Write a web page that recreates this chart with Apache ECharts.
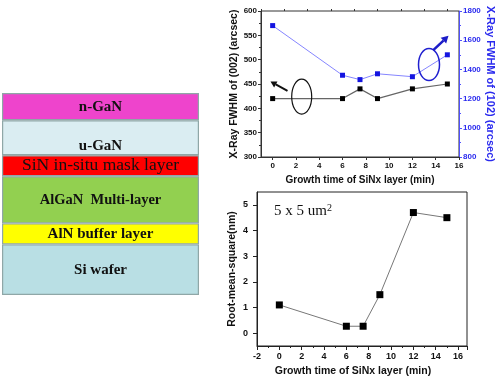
<!DOCTYPE html>
<html>
<head>
<meta charset="utf-8">
<script src="https://cdn.jsdelivr.net/npm/echarts@6/dist/echarts.min.js"></script>
<style>
html,body{margin:0;padding:0;background:#fff;}
#c{width:500px;height:381px;}
</style>
</head>
<body>
<div id="c"></div>
<script>
// ---- data ----
const xTop = [0, 6, 7.5, 9, 12, 15];
const fwhm002 = [420, 420, 440, 420, 440, 450];
const fwhm102 = [1700, 1360, 1330, 1370, 1350, 1500];
const xBottom = [0, 6, 7.5, 9, 12, 15];
const rms = [1.1, 0.27, 0.27, 1.5, 4.7, 4.5];
const xTicksTop = [0, 2, 4, 6, 8, 10, 12, 14, 16];
const xMinorTop = [-1, 1, 3, 5, 7, 9, 11, 13, 15];
const yTicksRms = [0, 1, 2, 3, 4, 5];
const layers = ['n-GaN', 'u-GaN', 'SiN in-situ mask layer', 'AlGaN  Multi-layer', 'AlN buffer layer', 'Si wafer'];
const layerThickness = [27.3, 35, 21, 47.3, 21, 50.7];

// ---- styles ----
const layerColors = ['#ee44cc', '#daedf2', '#ff0000', '#92d050', '#ffff00', '#b9dfe4'];
const SANS = 'Liberation Sans, Arial, sans-serif';
const SERIF = 'Liberation Serif, Times New Roman, serif';
const BLUE = '#2a2aee';
const plain = v => String(v);

const pairs = (xs, ys) => xs.map((x, i) => [x, ys[i]]);

function arrow(x1, y1, x2, y2, color, w, hl, hw) {
  const dx = x2 - x1, dy = y2 - y1, L = Math.hypot(dx, dy);
  const ux = dx / L, uy = dy / L, nx = -uy, ny = ux;
  const bx = x2 - ux * hl, by = y2 - uy * hl;
  return [
    { type: 'polyline', shape: { points: [[x1, y1], [bx, by]] }, style: { stroke: color, lineWidth: w, fill: null }, z: 100 },
    { type: 'polygon', shape: { points: [[x2, y2], [bx + nx * hw, by + ny * hw], [bx - nx * hw, by - ny * hw]] }, style: { fill: color }, z: 100 }
  ];
}

const chart = echarts.init(document.getElementById('c'));

const layerSeries = layers.map((name, i) => ({
  type: 'bar', name: name, stack: 'L', xAxisIndex: 3, yAxisIndex: 3,
  barWidth: '100%', data: [layerThickness[i]],
  itemStyle: { color: layerColors[i], borderColor: '#8fa7a7', borderWidth: 1.2 },
  label: {
    show: true,
    position: i === 1 ? 'insideBottom' : 'inside',
    distance: 1,
    formatter: name,
    color: '#111',
    fontFamily: SERIF,
    fontWeight: i === 2 ? 'normal' : 'bold',
    fontSize: i === 2 ? 17.5 : (i === 3 ? 14.5 : 15),
    lineHeight: i === 2 ? 18 : 16,
    padding: i === 2 ? [2, 0, 0, 0] : 0
  },
  silent: true, animation: false
}));

const option = {
  animation: false,
  grid: [
    { left: 261, top: 11, width: 198, height: 146, show: true, borderColor: '#333', borderWidth: 1 },
    { left: 257, top: 192, width: 210, height: 154, show: true, borderColor: '#222', borderWidth: 1 },
    { left: 2, top: 93, width: 197, height: 202 }
  ],
  xAxis: [
    {
      type: 'value', gridIndex: 0, min: -1, max: 16,
      name: 'Growth time of SiNx layer (min)', nameLocation: 'middle', nameGap: 18,
      nameTextStyle: { fontFamily: SANS, fontWeight: 'bold', fontSize: 10, color: '#111' },
      axisLine: { onZero: false, lineStyle: { color: '#333' } },
      axisTick: { customValues: xTicksTop, length: 3, lineStyle: { color: '#333' } },
      axisLabel: { customValues: xTicksTop, formatter: plain, fontFamily: SANS, fontWeight: 'bold', fontSize: 8, color: '#111', margin: 5 },
      splitLine: { show: false }
    },
    {
      type: 'value', gridIndex: 0, min: -1, max: 16,
      axisLine: { show: false, onZero: false },
      axisTick: { customValues: xMinorTop, length: 2, lineStyle: { color: '#333' } },
      axisLabel: { show: false }, splitLine: { show: false }
    },
    {
      type: 'value', gridIndex: 1, min: -2, max: 16.8, interval: 2,
      name: 'Growth time of SiNx layer (min)', nameLocation: 'middle', nameGap: 20,
      nameTextStyle: { fontFamily: SANS, fontWeight: 'bold', fontSize: 10.5, color: '#111', padding: [0, 18, 0, 0] },
      axisLine: { onZero: false, lineStyle: { color: '#222' } },
      axisTick: { length: 4, lineStyle: { color: '#222' } },
      minorTick: { show: true, splitNumber: 2, length: 2, lineStyle: { color: '#222' } },
      axisLabel: { showMaxLabel: false, formatter: plain, fontFamily: SANS, fontWeight: 'bold', fontSize: 9, color: '#111', margin: 6 },
      splitLine: { show: false }
    },
    {
      type: 'category', gridIndex: 2, data: ['stack'], show: false
    }
  ],
  yAxis: [
    {
      type: 'value', gridIndex: 0, min: 300, max: 600, interval: 50,
      name: 'X-Ray FWHM of (002) (arcsec)', nameLocation: 'middle', nameGap: 20,
      nameTextStyle: { fontFamily: SANS, fontWeight: 'bold', fontSize: 10.5, color: '#111' },
      axisLine: { show: true, onZero: false, lineStyle: { color: '#333' } },
      axisTick: { length: 3, lineStyle: { color: '#333' } },
      minorTick: { show: true, splitNumber: 2, length: 2, lineStyle: { color: '#333' } },
      axisLabel: { formatter: plain, fontFamily: SANS, fontWeight: 'bold', fontSize: 8, color: '#111', margin: 4 },
      splitLine: { show: false }
    },
    {
      type: 'value', gridIndex: 0, position: 'right', min: 800, max: 1800, interval: 200,
      name: 'X-Ray FWHM of (102) (arcsec)', nameLocation: 'middle', nameGap: 24, nameRotate: -90,
      nameTextStyle: { fontFamily: SANS, fontWeight: 'bold', fontSize: 11, color: BLUE },
      axisLine: { show: true, onZero: false, lineStyle: { color: '#5050ff' } },
      axisTick: { length: 3, lineStyle: { color: '#5050ff' } },
      minorTick: { show: true, splitNumber: 2, length: 2, lineStyle: { color: '#5050ff' } },
      axisLabel: { formatter: plain, fontFamily: SANS, fontWeight: 'bold', fontSize: 8, color: BLUE, margin: 4 },
      splitLine: { show: false }
    },
    {
      type: 'value', gridIndex: 1, min: -0.5, max: 5.5,
      name: 'Root-mean-square(nm)', nameLocation: 'middle', nameGap: 19,
      nameTextStyle: { fontFamily: SANS, fontWeight: 'bold', fontSize: 10.5, color: '#111' },
      axisLine: { show: true, onZero: false, lineStyle: { color: '#222' } },
      axisTick: { customValues: yTicksRms, length: 4, lineStyle: { color: '#222' } },
      axisLabel: { customValues: yTicksRms, formatter: plain, fontFamily: SANS, fontWeight: 'bold', fontSize: 9, color: '#111', margin: 9 },
      splitLine: { show: false }
    },
    {
      type: 'value', gridIndex: 2, min: 0, max: 202.3, inverse: true, show: false
    }
  ],
  series: [
    {
      type: 'line', name: 'FWHM (002)', xAxisIndex: 0, yAxisIndex: 0,
      data: pairs(xTop, fwhm002),
      symbol: 'rect', symbolSize: 5,
      itemStyle: { color: '#000' },
      lineStyle: { color: '#666', width: 1.2 }
    },
    {
      type: 'line', name: 'FWHM (102)', xAxisIndex: 0, yAxisIndex: 1,
      data: pairs(xTop, fwhm102),
      symbol: 'rect', symbolSize: 5,
      itemStyle: { color: '#1414e0' },
      lineStyle: { color: '#8585ff', width: 1 }
    },
    {
      type: 'line', name: 'RMS', xAxisIndex: 2, yAxisIndex: 2,
      data: pairs(xBottom, rms),
      symbol: 'rect', symbolSize: 7,
      itemStyle: { color: '#000' },
      lineStyle: { color: '#777', width: 1 }
    }
  ].concat(layerSeries),
  graphic: [
    { type: 'ellipse', shape: { cx: 301.7, cy: 96.7, rx: 10, ry: 17.5 }, style: { stroke: '#111', lineWidth: 1.2, fill: null }, z: 100 },
    { type: 'ellipse', shape: { cx: 429, cy: 64.5, rx: 10.5, ry: 16 }, style: { stroke: '#2020d0', lineWidth: 1.5, fill: null }, z: 100 },
    ...arrow(287.5, 90.8, 270.5, 81.6, '#111', 2, 6, 3.5),
    ...arrow(433.3, 50.2, 448.5, 35.8, '#1c1cc8', 2.5, 7, 4),
    {
      type: 'text', x: 274, y: 203, z: 100,
      style: {
        text: '{a|5 x 5 um}{s|2}',
        rich: {
          a: { fontFamily: SERIF, fontSize: 15, fill: '#111', verticalAlign: 'bottom', lineHeight: 16 },
          s: { fontFamily: SERIF, fontSize: 10, fill: '#111', verticalAlign: 'top', lineHeight: 10 }
        }
      }
    }
  ]
};

chart.setOption(option);
</script>
</body>
</html>
